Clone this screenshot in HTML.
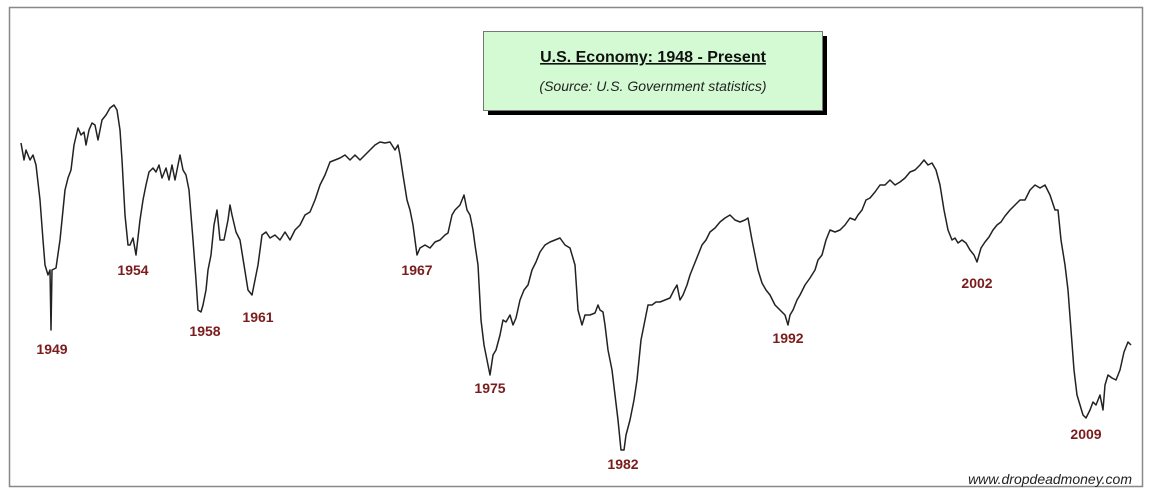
<!DOCTYPE html>
<html><head><meta charset="utf-8"><style>
html,body{margin:0;padding:0;background:#fff;}
svg{display:block;}
</style></head><body>
<svg width="1156" height="497" viewBox="0 0 1156 497" xmlns="http://www.w3.org/2000/svg">
<rect x="0" y="0" width="1156" height="497" fill="#fff"/>
<rect x="9.5" y="7.5" width="1133" height="479" fill="#fff" stroke="#888" stroke-width="1.5"/>
<rect x="488" y="36" width="339" height="79" fill="#000"/>
<rect x="483.5" y="31.5" width="339" height="79" fill="#d4fad4" stroke="#777" stroke-width="1"/>
<text x="653" y="62" text-anchor="middle" font-family="Liberation Sans, sans-serif" font-weight="bold" font-size="16" fill="#111" text-decoration="underline">U.S. Economy: 1948 - Present</text>
<text x="653" y="91" text-anchor="middle" font-family="Liberation Sans, sans-serif" font-style="italic" font-size="14" fill="#222">(Source: U.S. Government statistics)</text>
<polyline fill="none" stroke="#222" stroke-width="1.5" stroke-linejoin="round" points="21,143 24,160 26,150 30,160 33,155 36,165 40,200 43,240 45,265 48,275 50,270 51,330 52,270 56,268 60,240 65,190 68,178 71,170 74,145 78,128 81,135 84,132 86,145 89,130 92,123 95,125 98,140 102,120 106,115 110,108 114,105 117,110 120,130 122,160 125,215 128,245 130,245 133,238 136,255 140,220 143,200 146,185 149,172 153,168 156,172 159,165 162,178 166,168 169,180 172,165 175,180 178,165 180,155 183,170 186,175 189,190 193,240 196,280 198,310 201,312 203,305 206,290 208,270 211,255 214,225 217,210 220,240 224,240 228,220 230,205 232,215 236,232 240,240 244,265 248,290 252,295 255,280 258,265 262,235 266,232 270,238 275,235 280,240 285,232 290,240 295,230 300,225 305,215 310,212 315,200 320,185 325,175 330,162 335,160 340,158 345,155 350,160 355,155 360,160 365,155 370,150 375,145 380,142 385,143 390,142 395,150 398,145 400,155 403,175 407,200 410,210 413,225 415,240 417,255 420,248 425,245 430,248 435,242 440,240 445,235 448,233 452,215 455,210 460,205 464,195 467,210 470,215 473,230 475,245 478,265 481,320 484,345 487,360 490,375 493,355 496,350 500,335 503,320 506,322 510,315 513,325 516,318 520,300 524,290 528,285 532,270 536,262 540,252 545,245 550,242 555,240 560,238 565,245 570,248 575,265 578,310 582,325 585,315 590,315 595,313 598,305 600,310 603,312 605,325 608,350 612,370 615,395 618,420 621,450 624,450 626,435 630,420 634,400 637,380 641,340 645,320 648,305 652,305 656,302 660,302 665,300 670,298 674,290 677,285 680,300 683,295 687,285 690,275 694,265 698,255 702,245 706,240 710,232 715,228 720,222 725,218 730,215 735,220 740,222 745,220 748,218 752,240 755,255 758,270 762,283 766,290 770,295 775,305 780,310 785,315 788,325 790,315 793,310 797,300 800,295 805,285 810,278 815,270 818,260 822,255 826,240 830,230 835,232 840,230 845,225 850,218 855,220 858,215 862,210 866,200 870,198 875,192 880,185 885,185 890,180 895,185 900,182 905,178 910,172 915,170 920,165 924,160 928,165 932,163 936,170 940,185 944,210 948,230 952,240 955,238 958,243 962,240 966,243 970,250 974,255 977,262 981,248 985,242 989,237 993,230 997,225 1001,222 1005,216 1010,210 1015,205 1020,200 1025,200 1030,190 1035,185 1040,188 1045,185 1050,195 1055,210 1058,210 1061,240 1065,265 1068,290 1071,330 1074,370 1077,395 1080,405 1083,415 1086,418 1090,410 1093,402 1096,405 1100,395 1103,410 1105,385 1108,375 1112,378 1116,380 1120,370 1124,352 1128,342 1131,345"/>
<g font-family="Liberation Sans, sans-serif" font-weight="bold" font-size="14" fill="#7a1c1c" text-anchor="middle">
<text x="52" y="354">1949</text>
<text x="133" y="275">1954</text>
<text x="205" y="336">1958</text>
<text x="258" y="322">1961</text>
<text x="417" y="275">1967</text>
<text x="490" y="393">1975</text>
<text x="623" y="469">1982</text>
<text x="788" y="343">1992</text>
<text x="977" y="288">2002</text>
<text x="1086" y="439">2009</text>
</g>
<text x="1132" y="484" text-anchor="end" font-family="Liberation Sans, sans-serif" font-style="italic" font-size="14" fill="#222">www.dropdeadmoney.com</text>
</svg>
</body></html>
